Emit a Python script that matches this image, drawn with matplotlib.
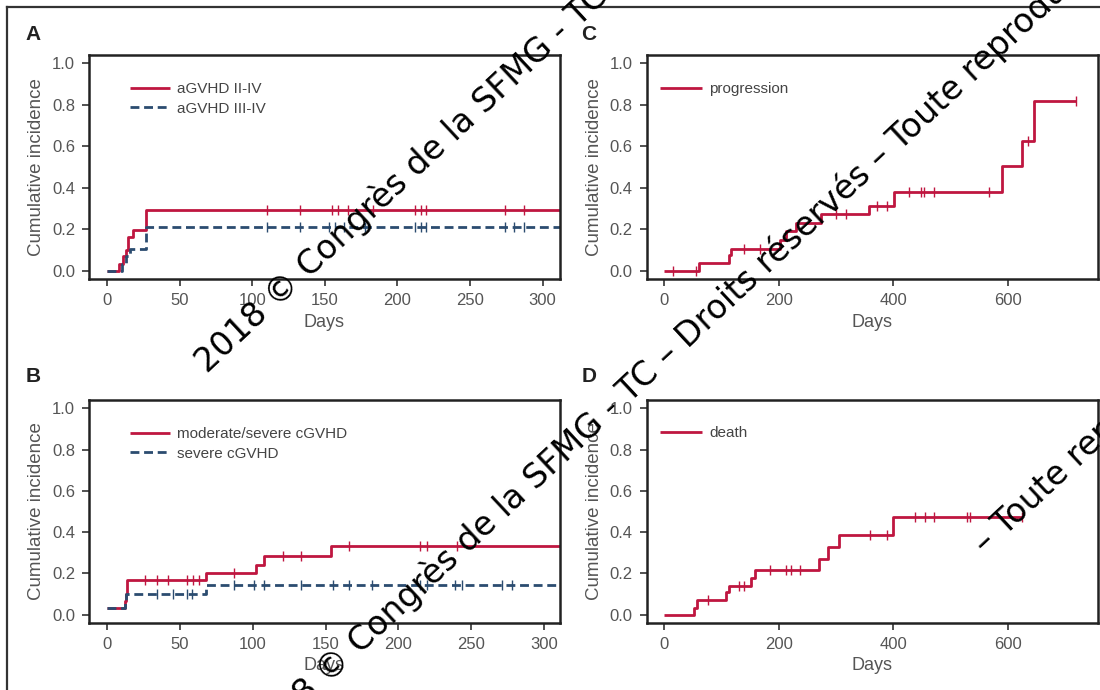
import numpy as np
import matplotlib
matplotlib.use("Agg")
import matplotlib.pyplot as plt
from matplotlib.lines import Line2D

# ---------------- data ----------------
# Panel A: acute GVHD
a_red_label = "aGVHD II-IV"
a_red_t = [0, 8.5, 11, 12.8, 14.3, 17.7, 27]
a_red_v = [0.0, 0.035, 0.07, 0.10, 0.165, 0.195, 0.295]
a_red_end = 330
a_red_cens = [110, 133, 155, 159, 166, 183, 212, 216, 220, 274, 287]

a_blue_label = "aGVHD III-IV"
a_blue_t = [0, 10, 13, 16, 27]
a_blue_v = [0.0, 0.035, 0.07, 0.105, 0.21]
a_blue_end = 330
a_blue_cens = [110, 133, 153, 157, 163, 178, 212, 216, 220, 274, 280, 287]

# Panel B: chronic GVHD
b_red_label = "moderate/severe cGVHD"
b_red_t = [0, 12, 13, 14, 68, 102, 108, 154]
b_red_v = [0.033, 0.067, 0.10, 0.167, 0.20, 0.24, 0.285, 0.333]
b_red_end = 330
b_red_cens = [26, 34, 42, 55, 59, 63, 87, 121, 133, 166, 215, 220, 240]

b_blue_label = "severe cGVHD"
b_blue_t = [0, 12, 13, 68]
b_blue_v = [0.033, 0.067, 0.10, 0.143]
b_blue_end = 330
b_blue_cens = [34, 45, 55, 58, 87, 101, 108, 133, 155, 166, 182, 215, 220, 239, 244, 271, 278]

# Panel C: progression
c_label = "progression"
c_t = [0, 61, 113, 117, 203, 212, 230, 274, 357, 401, 591, 625, 647]
c_v = [0.0, 0.039, 0.076, 0.108, 0.148, 0.193, 0.232, 0.273, 0.313, 0.381, 0.505, 0.625, 0.815]
c_end = 719
c_cens = [16, 55, 140, 167, 300, 318, 372, 390, 427, 448, 454, 472, 568, 635, 719]

# Panel D: death
d_label = "death"
d_t = [0, 52, 58, 108, 114, 152, 158, 271, 286, 306, 400]
d_v = [0.0, 0.035, 0.071, 0.108, 0.14, 0.18, 0.219, 0.272, 0.33, 0.386, 0.473]
d_end = 626
d_cens = [77, 131, 140, 185, 212, 221, 237, 360, 390, 439, 456, 472, 529, 535, 626]

yticks = [0.0, 0.2, 0.4, 0.6, 0.8, 1.0]
xticks_ab = [0, 50, 100, 150, 200, 250, 300]
xticks_cd = [0, 200, 400, 600]
panel_letters = ["A", "B", "C", "D"]
xlabel = "Days"
ylabel = "Cumulative incidence"
watermark = "2018 \u00a9 Congr\u00e8s de la SFMG - TC \u2013 Droits r\u00e9serv\u00e9s \u2013 Toute reproduction interdite"
watermark_tail = "\u2013 Toute reproduction interdite"

# ---------------- style ----------------
RED = "#bf1640"
BLUE = "#2b4c70"
TXT = "#555555"
W, H = 1100, 690
plt.rcParams["font.family"] = ["Liberation Sans", "DejaVu Sans"]

fig = plt.figure(figsize=(11, 6.9), dpi=100)


def px_rect(l, t, r, b):
    return [l / W, 1 - b / H, (r - l) / W, (b - t) / H]


def step_curve(ax, t, v, end, cens, color, ls, label):
    t = np.asarray(t, float)
    v = np.asarray(v, float)
    tt = np.append(t, end)
    vv = np.append(v, v[-1])
    kw = dict(color=color, lw=2.0, solid_capstyle="butt")
    if ls == "dash":
        kw.update(linestyle=(0, (3.2, 1.7)))
    ax.step(tt, vv, where="post", label=label, **kw)
    c = np.asarray(cens, float)
    idx = np.searchsorted(t, c, side="right") - 1
    ax.plot(c, v[idx], linestyle="none", marker="|", markersize=6.5,
            markeredgewidth=1.0, color=color, clip_on=True)


def style_axes(ax, xlim, xticks):
    ax.set_xlim(*xlim)
    ax.set_ylim(-0.04, 1.04)
    ax.set_xticks(xticks)
    ax.set_yticks(yticks)
    ax.set_yticklabels([f"{y:.1f}" for y in yticks])
    for s in ax.spines.values():
        s.set_linewidth(1.8)
        s.set_color("#222222")
    ax.tick_params(direction="out", length=5, width=1.2, color="#333333",
                   labelsize=12, labelcolor=TXT, pad=5)
    ax.set_xlabel(xlabel, fontsize=13, color=TXT, labelpad=4)
    ax.set_ylabel(ylabel, fontsize=13.5, color=TXT, labelpad=5)


def add_legend(ax, anchor, hl):
    leg = ax.legend(loc="upper left", bbox_to_anchor=anchor, frameon=False,
                    fontsize=11, handlelength=hl, handletextpad=0.45,
                    labelspacing=0.36, borderpad=0, borderaxespad=0)
    for txt in leg.get_texts():
        txt.set_color("#444444")
    return leg


# Panel A
axA = fig.add_axes(px_rect(89, 54.7, 560, 279.3))
step_curve(axA, a_red_t, a_red_v, a_red_end, a_red_cens, RED, "solid", a_red_label)
step_curve(axA, a_blue_t, a_blue_v, a_blue_end, a_blue_cens, BLUE, "dash", a_blue_label)
style_axes(axA, (-12.4, 312), xticks_ab)
add_legend(axA, (0.087, 0.878), 2.6)

# Panel B
axB = fig.add_axes(px_rect(89, 400, 560, 623))
step_curve(axB, b_red_t, b_red_v, b_red_end, b_red_cens, RED, "solid", b_red_label)
step_curve(axB, b_blue_t, b_blue_v, b_blue_end, b_blue_cens, BLUE, "dash", b_blue_label)
style_axes(axB, (-12.4, 311), xticks_ab)
add_legend(axB, (0.087, 0.878), 2.6)

# Panel C
axC = fig.add_axes(px_rect(646.5, 54.7, 1098, 279.3))
step_curve(axC, c_t, c_v, c_end, c_cens, RED, "solid", c_label)
style_axes(axC, (-31, 758), xticks_cd)
add_legend(axC, (0.030, 0.878), 2.75)

# Panel D
axD = fig.add_axes(px_rect(646.5, 400, 1098, 623))
step_curve(axD, d_t, d_v, d_end, d_cens, RED, "solid", d_label)
style_axes(axD, (-31, 758), xticks_cd)
add_legend(axD, (0.030, 0.884), 2.75)

# panel letters
for letter, (x, y) in zip(panel_letters, [(33, 34), (33, 376), (589, 34), (589, 376)]):
    fig.text(x / W, 1 - y / H, letter, fontsize=15, fontweight="bold",
             color="#222222", ha="center", va="center")

# outer frame (top and left edges visible)
fig.add_artist(Line2D([7 / W, 1], [1 - 7 / H, 1 - 7 / H], color="#333333", lw=1.6))
fig.add_artist(Line2D([7 / W, 7 / W], [0, 1 - 7 / H], color="#333333", lw=1.6))

# watermark
ang = 43.0
for (x, y), s in zip([(207, 374), (258, 750), (985, 555)],
                     [watermark, watermark, watermark_tail]):
    fig.text(x / W, 1 - y / H, s, fontsize=24, family="DejaVu Sans",
             color="black", rotation=ang, rotation_mode="anchor",
             ha="left", va="baseline", zorder=10)

fig.savefig("out.png", dpi=100)
